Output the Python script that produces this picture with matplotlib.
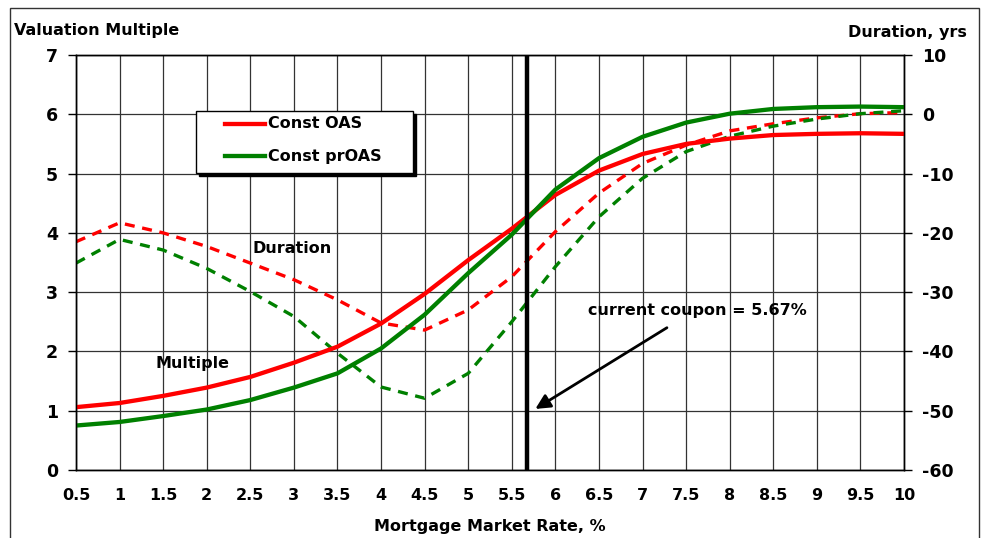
import matplotlib
matplotlib.use("Agg")
import matplotlib.pyplot as plt
from matplotlib.patches import Rectangle
from matplotlib.lines import Line2D

plt.rcParams['font.family'] = ['DejaVu Sans']
plt.rcParams['font.weight'] = 'bold'

rates = [0.5, 1, 1.5, 2, 2.5, 3, 3.5, 4, 4.5, 5, 5.5, 6, 6.5, 7, 7.5, 8, 8.5, 9, 9.5, 10]
rate_labels = ['0.5', '1', '1.5', '2', '2.5', '3', '3.5', '4', '4.5', '5', '5.5', '6',
               '6.5', '7', '7.5', '8', '8.5', '9', '9.5', '10']

mult_oas = [1.06, 1.13, 1.25, 1.39, 1.57, 1.81, 2.08, 2.47, 2.97, 3.54, 4.07, 4.64,
            5.05, 5.33, 5.50, 5.59, 5.65, 5.67, 5.68, 5.67]
mult_proas = [0.75, 0.81, 0.91, 1.02, 1.18, 1.39, 1.63, 2.05, 2.62, 3.32, 3.97, 4.73,
              5.26, 5.62, 5.86, 6.01, 6.09, 6.12, 6.13, 6.12]
dur_oas = [-21.5, -18.3, -20.0, -22.3, -25.1, -27.9, -31.3, -35.2, -36.4, -33.0, -27.4,
           -19.8, -13.3, -8.3, -5.2, -2.8, -1.6, -0.6, 0.1, 0.3]
dur_proas = [-25.1, -21.1, -22.9, -26.0, -29.9, -34.1, -40.3, -46.0, -47.9, -43.7, -35.0,
             -25.7, -17.3, -10.8, -6.3, -3.7, -2.0, -0.8, 0.1, 0.6]

series_names = ['Const OAS', 'Const prOAS']
current_coupon = 5.67

RED = '#FF0000'
GREEN = '#008000'
GRID = '#333333'
FS = 11.5

fig = plt.figure(figsize=(9.82, 5.38), dpi=100)
ax = fig.add_axes([76/982, 1-470/538, 828/982, 415/538])
ax2 = ax.twinx()
# duration axes below, multiple axes on top
ax.set_zorder(ax2.get_zorder() + 1)
ax.patch.set_visible(False)
ax2.patch.set_visible(True)
ax2.patch.set_facecolor('white')

ax.set_xlim(0.5, 10)
ax.set_ylim(0, 7)
ax2.set_ylim(-60, 10)

ax.set_xticks(rates)
ax.set_xticklabels(rate_labels, fontsize=FS, fontweight='bold')
ax.set_yticks(range(0, 8))
ax.set_yticklabels([str(v) for v in range(0, 8)], fontsize=FS+1, fontweight='bold')
ax2.set_yticks(range(-60, 11, 10))
ax2.set_yticklabels([str(v) for v in range(-60, 11, 10)], fontsize=FS+1, fontweight='bold')

# grid drawn on the lower axes so the curves sit on top
ax2.yaxis.grid(True, color=GRID, linewidth=0.9)
ax2.vlines(rates, -60, 10, colors=GRID, linewidth=0.9, zorder=0.5)
ax2.set_axisbelow(True)
ax.grid(False)
ax.tick_params(axis='x', length=0, pad=13)
ax.tick_params(axis='y', length=6, width=1, pad=7, direction='out')
ax2.tick_params(axis='y', length=6, width=1, pad=7, direction='out')
for a in (ax, ax2):
    for s in a.spines.values():
        s.set_color('black')
        s.set_linewidth(1)

# duration (right axis)
ax2.plot(rates, dur_oas, color=RED, linewidth=2.4, linestyle=(0, (3, 2.3)), zorder=2)
ax2.plot(rates, dur_proas, color=GREEN, linewidth=2.4, linestyle=(0, (3, 2.3)), zorder=2)

# multiples (left axis)
ax.plot(rates, mult_oas, color=RED, linewidth=3.1, solid_capstyle='butt')
ax.plot(rates, mult_proas, color=GREEN, linewidth=3.1, solid_capstyle='butt')
ax.axvline(current_coupon, color='black', linewidth=3.2)

# manual legend box (pixel positions converted to axes fraction)
def axfrac(px, py):
    return ((px - 76) / 828, (470 - py) / 415)

bx0, by0 = axfrac(196, 173)
bx1, by1 = axfrac(413, 111)
sx, sy = axfrac(199, 176)
ax.add_patch(Rectangle((sx, sy), bx1 - bx0, by1 - by0, transform=ax.transAxes,
                       facecolor='black', edgecolor='black', zorder=5))
ax.add_patch(Rectangle((bx0, by0), bx1 - bx0, by1 - by0, transform=ax.transAxes,
                       facecolor='white', edgecolor='black', linewidth=1, zorder=6))
for name, col, py in zip(series_names, [RED, GREEN], [124, 156]):
    x0, yy = axfrac(225, py)
    x1, _ = axfrac(265, py)
    ax.add_line(Line2D([x0, x1], [yy, yy], transform=ax.transAxes, color=col,
                       linewidth=3.1, zorder=7))
    tx, _ = axfrac(268, py)
    ax.text(tx, yy, name, transform=ax.transAxes, fontsize=FS, fontweight='bold',
            ha='left', va='center', zorder=7)

ax.text(2.52, 3.74, 'Duration', fontsize=FS, fontweight='bold', ha='left', va='center')
ax.text(1.41, 1.80, 'Multiple', fontsize=FS, fontweight='bold', ha='left', va='center')
ax.text(6.37, 2.69, 'current coupon = 5.67%', fontsize=FS, fontweight='bold',
        ha='left', va='center')
ax.annotate('', xy=(5.77, 1.03), xytext=(7.28, 2.40),
            arrowprops=dict(arrowstyle='-|>', color='black', lw=2,
                            mutation_scale=22, shrinkA=0, shrinkB=0))

fig.text(14/982, 1-30/538, 'Valuation Multiple', fontsize=FS, fontweight='bold',
         ha='left', va='center')
fig.text(967/982, 1-32/538, 'Duration, yrs', fontsize=FS, fontweight='bold',
         ha='right', va='center')
fig.text(490/982, 1-527/538, 'Mortgage Market Rate, %', fontsize=FS, fontweight='bold',
         ha='center', va='center')

fig.patches.append(Rectangle((10/982, -0.02), 969/982, 1.02-8/538, transform=fig.transFigure,
                             fill=False, edgecolor='#333333', linewidth=1, clip_on=False))

fig.savefig('out.png', dpi=100)
